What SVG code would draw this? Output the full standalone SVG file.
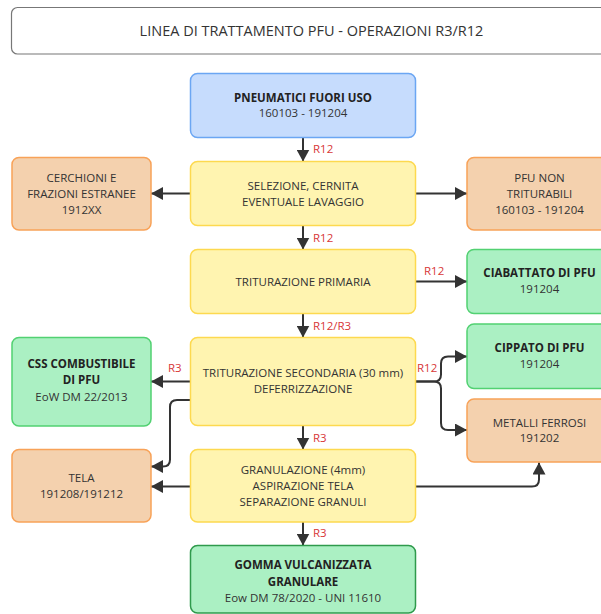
<svg xmlns="http://www.w3.org/2000/svg" width="601" height="614" viewBox="0 0 601 614">
  <style>
    text { font-family: "Open Sans", "Noto Sans", "Liberation Sans", sans-serif; font-size: 11.5px; fill: #333; text-anchor: middle; }
    .b { font-weight: 700; fill: #222; }
    .title { font-size: 14.5px; fill: #333; }
    .lbl { fill: #d83838; text-anchor: start; }
    .blue { fill: #c6dcfd; stroke: #6ba6f3; stroke-width: 1.5; }
    .yellow { fill: #fff4b0; stroke: #fdd94f; stroke-width: 1.5; }
    .orange { fill: #f4d1ae; stroke: #f8a258; stroke-width: 1.5; }
    .green { fill: #abf0c3; stroke: #52d172; stroke-width: 1.5; }
    .dgreen { fill: #abf0c3; stroke: #2f9a4c; stroke-width: 1.5; }
    .edge { fill: none; stroke: #333; stroke-width: 2; marker-end: url(#arrow); }
  </style>
  <defs>
    <marker id="arrow" markerUnits="userSpaceOnUse" markerWidth="12" markerHeight="13" refX="12" refY="6.5" orient="auto">
      <path d="M0,0 L12,6.5 L0,13 Z" fill="#333"/>
    </marker>
  </defs>

  <g id="title">
    <rect x="11.5" y="7.5" width="600" height="46.5" rx="6" fill="#fff" stroke="#777" stroke-width="1.2"/>
    <text class="title" x="311.5" y="36">LINEA DI TRATTAMENTO PFU - OPERAZIONI R3/R12</text>
  </g>

  <g id="connectors">
    <path class="edge" d="M303,137.5 V161.5"/>
    <path class="edge" d="M190,193.5 H151"/>
    <path class="edge" d="M416,193.5 H467"/>
    <path class="edge" d="M303,225.5 V249.5"/>
    <path class="edge" d="M416,281.5 H467"/>
    <path class="edge" d="M303,313.5 V337.5"/>
    <path class="edge" d="M190,381.5 H151"/>
    <path class="edge" d="M190,400 H177 Q170,400 170,407 V459.5 Q170,466.5 163,466.5 H151"/>
    <path class="edge" d="M416,381.5 H434 Q441,381.5 441,374.5 V363.5 Q441,356.5 448,356.5 H467"/>
    <path class="edge" d="M416,381.5 H434 Q441,381.5 441,388.5 V423 Q441,430 448,430 H467"/>
    <path class="edge" d="M303,425.5 V449.5"/>
    <path class="edge" d="M190,486.5 H151"/>
    <path class="edge" d="M416,486.5 H532 Q539,486.5 539,479.5 V462.5"/>
    <path class="edge" d="M303,522 V545.5"/>
    <text class="lbl" x="313" y="153">R12</text>
    <text class="lbl" x="313" y="242">R12</text>
    <text class="lbl" x="424" y="275">R12</text>
    <text class="lbl" x="313" y="330">R12/R3</text>
    <text class="lbl" x="168" y="372">R3</text>
    <text class="lbl" x="417" y="372">R12</text>
    <text class="lbl" x="313" y="442">R3</text>
    <text class="lbl" x="313" y="537">R3</text>
  </g>

  <g id="pneumatici">
    <rect class="blue" x="190.5" y="73.5" width="225" height="64" rx="7"/>
    <text class="b" x="303" y="101.7">PNEUMATICI FUORI USO</text>
    <text x="303" y="117">160103 - 191204</text>
  </g>

  <g id="selezione">
    <rect class="yellow" x="190.5" y="161.5" width="225" height="64" rx="7"/>
    <text x="303" y="190">SELEZIONE, CERNITA</text>
    <text x="303" y="205.5">EVENTUALE LAVAGGIO</text>
  </g>

  <g id="cerchioni">
    <rect class="orange" x="12" y="157.5" width="139" height="72.5" rx="7"/>
    <text x="81.5" y="182.3">CERCHIONI E</text>
    <text x="81.5" y="198.3">FRAZIONI ESTRANEE</text>
    <text x="81.5" y="214.3">1912XX</text>
  </g>

  <g id="pfu-non-triturabili">
    <rect class="orange" x="467" y="157.5" width="145" height="72.5" rx="7"/>
    <text x="539.5" y="182.3">PFU NON</text>
    <text x="539.5" y="198.3">TRITURABILI</text>
    <text x="539.5" y="214.3">160103 - 191204</text>
  </g>

  <g id="triturazione-primaria">
    <rect class="yellow" x="190.5" y="249.5" width="225" height="64" rx="7"/>
    <text x="303" y="285.5">TRITURAZIONE PRIMARIA</text>
  </g>

  <g id="ciabattato">
    <rect class="green" x="467" y="249.5" width="145" height="64" rx="7"/>
    <text class="b" x="539.5" y="277.3">CIABATTATO DI PFU</text>
    <text x="539.5" y="292.7">191204</text>
  </g>

  <g id="triturazione-secondaria">
    <rect class="yellow" x="190.5" y="337.5" width="225" height="88" rx="7"/>
    <text x="303" y="376.7">TRITURAZIONE SECONDARIA (30 mm)</text>
    <text x="303" y="392.7">DEFERRIZZAZIONE</text>
  </g>

  <g id="css">
    <rect class="green" x="12" y="337.5" width="139" height="88.5" rx="7"/>
    <text class="b" x="81.5" y="368.3">CSS COMBUSTIBILE</text>
    <text class="b" x="81.5" y="384.3">DI PFU</text>
    <text x="81.5" y="401">EoW DM 22/2013</text>
  </g>

  <g id="cippato">
    <rect class="green" x="467" y="324" width="145" height="64.5" rx="7"/>
    <text class="b" x="539.5" y="351.7">CIPPATO DI PFU</text>
    <text x="539.5" y="367.7">191204</text>
  </g>

  <g id="metalli-ferrosi">
    <rect class="orange" x="467" y="399" width="145" height="63" rx="7"/>
    <text x="539.5" y="426.7">METALLI FERROSI</text>
    <text x="539.5" y="442.3">191202</text>
  </g>

  <g id="tela">
    <rect class="orange" x="12" y="449.5" width="139" height="72.5" rx="7"/>
    <text x="81.5" y="481.5">TELA</text>
    <text x="81.5" y="497.5">191208/191212</text>
  </g>

  <g id="granulazione">
    <rect class="yellow" x="190.5" y="449.5" width="225" height="72.5" rx="7"/>
    <text x="303" y="474">GRANULAZIONE (4mm)</text>
    <text x="303" y="490">ASPIRAZIONE TELA</text>
    <text x="303" y="506">SEPARAZIONE GRANULI</text>
  </g>

  <g id="gomma">
    <rect class="dgreen" x="190.5" y="545.5" width="225" height="67.5" rx="7"/>
    <text class="b" x="303" y="569.3">GOMMA VULCANIZZATA</text>
    <text class="b" x="303" y="585.7">GRANULARE</text>
    <text x="303" y="601.7">Eow DM 78/2020 - UNI 11610</text>
  </g>
</svg>
